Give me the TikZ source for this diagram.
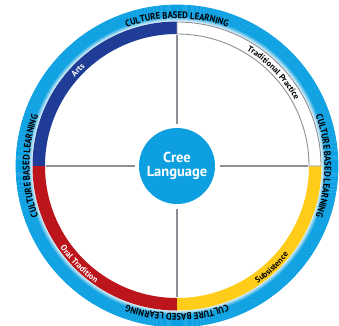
\documentclass[tikz,border=0pt]{standalone}
\usepackage{fontspec}
\setmainfont{PT Sans}
\newfontfamily\ringfam{PT Sans}[FakeStretch=0.9]
\usetikzlibrary{decorations.text}
\definecolor{ringcyan}{HTML}{0BA0E2}
\definecolor{centercyan}{HTML}{0E9FE0}
\definecolor{artsblue}{HTML}{1F3D96}
\definecolor{oralred}{HTML}{BD151C}
\definecolor{subyellow}{HTML}{FFCC1A}
\definecolor{divgray}{HTML}{8C9096}
\newcommand\ringfont{\ringfam\bfseries\fontsize{9.6}{10}\selectfont}
\newcommand\bandfont{\bfseries\fontsize{8.4}{9}\selectfont}
\tikzset{
  divline/.style={draw=divgray, line width=1.3pt},
  ringtext/.style={decorate, decoration={text along path, text align=center, text color=black, text={|\ringfont|CULTURE BASED LEARNING}}},
  bandlabel/.style 2 args={decorate, decoration={text along path, text align=center, text color=#1, text={|\bandfont|#2}}},
  hub/.style={circle, fill=centercyan, minimum size=76pt, inner sep=0pt, text=white, align=center,
    font=\bfseries\fontsize{14.5}{14}\selectfont}
}
\begin{document}
\begin{tikzpicture}[x=1pt,y=1pt]
\useasboundingbox (0,0) rectangle (339,325);
\clip (0,0) rectangle (339,325);
\begin{scope}[shift={(177,159)}]
  % outer glowing ring
  \foreach \i in {0,...,32}{
    \pgfmathsetmacro\rr{145+\i*0.5}
    \pgfmathtruncatemacro\mx{min(100,15+\i*9)}
    \draw[line width=0.75pt, color=ringcyan!\mx!white] (0,0) circle[radius=\rr];
  }
  % coloured bands
  \fill[artsblue] (90:144.5) arc[start angle=90,end angle=180,radius=144.5] -- (180:132) arc[start angle=180,end angle=90,radius=132] -- cycle;
  \fill[oralred] (180:144.5) arc[start angle=180,end angle=270,radius=144.5] -- (270:132) arc[start angle=270,end angle=180,radius=132] -- cycle;
  \fill[subyellow] (270:144.5) arc[start angle=270,end angle=360,radius=144.5] -- (0:132) arc[start angle=0,end angle=-90,radius=132] -- cycle;
  \filldraw[fill=white, draw=divgray, line width=0.9pt] (0:144) arc[start angle=0,end angle=90,radius=144] -- (90:132) arc[start angle=90,end angle=0,radius=132] -- cycle;
  % ring texts
  \path[ringtext] (150:147.5) arc[start angle=150,end angle=30,radius=147.5];
  \path[ringtext] (60:147.5) arc[start angle=60,end angle=-60,radius=147.5];
  \path[ringtext] (-30:147.5) arc[start angle=-30,end angle=-150,radius=147.5];
  \path[ringtext] (210:147.5) arc[start angle=210,end angle=150,radius=147.5];
  % band labels
  \path[bandlabel={white}{Arts}] (176:135) arc[start angle=176,end angle=96,radius=135];
  \path[bandlabel={black}{Traditional Practice}] (84:135) arc[start angle=84,end angle=4,radius=135];
  \path[bandlabel={white}{Oral Tradition}] (185:142.5) arc[start angle=185,end angle=265,radius=142.5];
  \path[bandlabel={black}{Subsistence}] (273:142.5) arc[start angle=273,end angle=353,radius=142.5];
  % divider coordinates
  \coordinate (nIn) at (90:42.5);  \coordinate (nOut) at (90:131);
  \coordinate (sIn) at (270:42.5); \coordinate (sOut) at (270:131);
  \coordinate (wIn) at (180:42.5); \coordinate (wOut) at (180:131);
  \coordinate (eIn) at (0:42.5);   \coordinate (eOut) at (0:131);
  \draw[divline] (nIn) -- (nOut);
  \draw[divline] (sIn) -- (sOut);
  \draw[divline] (wIn) -- (wOut);
  \draw[divline] (eIn) -- (eOut);
  % hub
  \node[hub] (cree) at (0,0) {Cree\\Language};
\end{scope}
\end{tikzpicture}
\end{document}
